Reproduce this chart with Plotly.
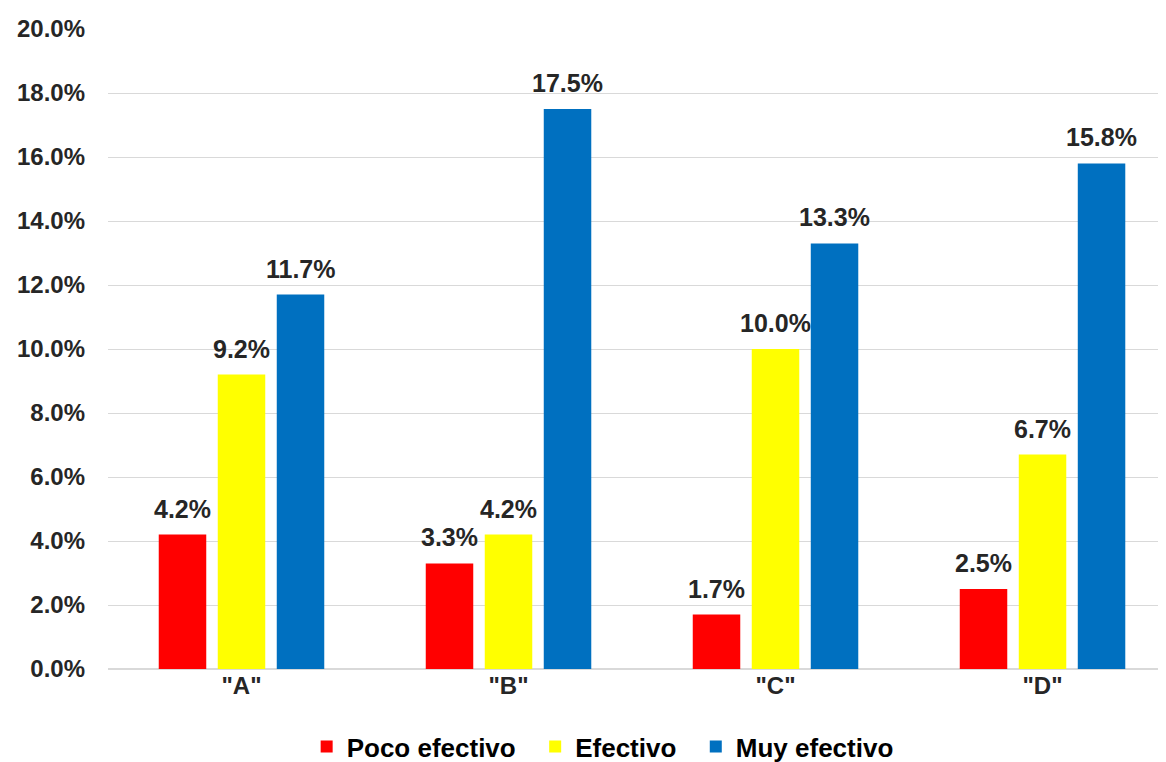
import plotly.graph_objects as go

categories = ['"A"', '"B"', '"C"', '"D"']
poco = [4.2, 3.3, 1.7, 2.5]
efectivo = [9.2, 4.2, 10.0, 6.7]
muy = [11.7, 17.5, 13.3, 15.8]
series_names = ["Poco efectivo", "Efectivo", "Muy efectivo"]
colors = ["#FF0000", "#FFFF00", "#0070C0"]

font_family = "Liberation Sans, Arial, sans-serif"
slot_px = 59  # pixel distance between bars inside a group

fig = go.Figure()
all_series = [poco, efectivo, muy]
for i, (name, vals, col) in enumerate(zip(series_names, all_series, colors)):
    label = f"<b>{name}</b>" + ("\u00a0\u00a0" if i < 2 else "")
    fig.add_trace(go.Bar(
        x=categories, y=vals, name=label,
        marker=dict(color=col, line=dict(width=0)),
        cliponaxis=False,
    ))
    for cat, v in zip(categories, vals):
        fig.add_annotation(
            x=cat, y=v, xref="x", yref="y",
            text=f"<b>{v:.1f}%</b>", showarrow=False,
            xanchor="center", yanchor="bottom",
            xshift=(i - 1) * slot_px, yshift=10,
            font=dict(family=font_family, size=25, color="#262626"),
        )

fig.update_layout(
    width=1166, height=762,
    paper_bgcolor="white", plot_bgcolor="white",
    margin=dict(l=100, r=14, t=21, b=101, autoexpand=False),
    barmode="group", bargap=0.337, bargroupgap=0.195,
    font=dict(family=font_family, color="#262626"),
    showlegend=True,
    legend=dict(orientation="h", x=0.51, xanchor="center", xref="container",
                y=0.0, yanchor="bottom", yref="container",
                font=dict(family=font_family, size=26, color="#000000"),
                itemwidth=30, tracegroupgap=0),
    xaxis=dict(range=[-0.5, 3.44], showgrid=False, showline=False, ticks="",
               automargin=False,
               tickfont=dict(family=font_family, size=24, color="#262626"),
               tickprefix="<b>", ticksuffix="</b>"),
    yaxis=dict(range=[0, 20], dtick=2, showgrid=True, gridcolor="#D9D9D9", gridwidth=1,
               zeroline=True, zerolinecolor="#D9D9D9", showline=False,
               automargin=False,
               tickformat=".1f", ticksuffix="%", tickprefix="<b>",
               tickfont=dict(family=font_family, size=24, color="#262626"),
               ticklabelstandoff=22),
)

fig.write_html("out.html")
